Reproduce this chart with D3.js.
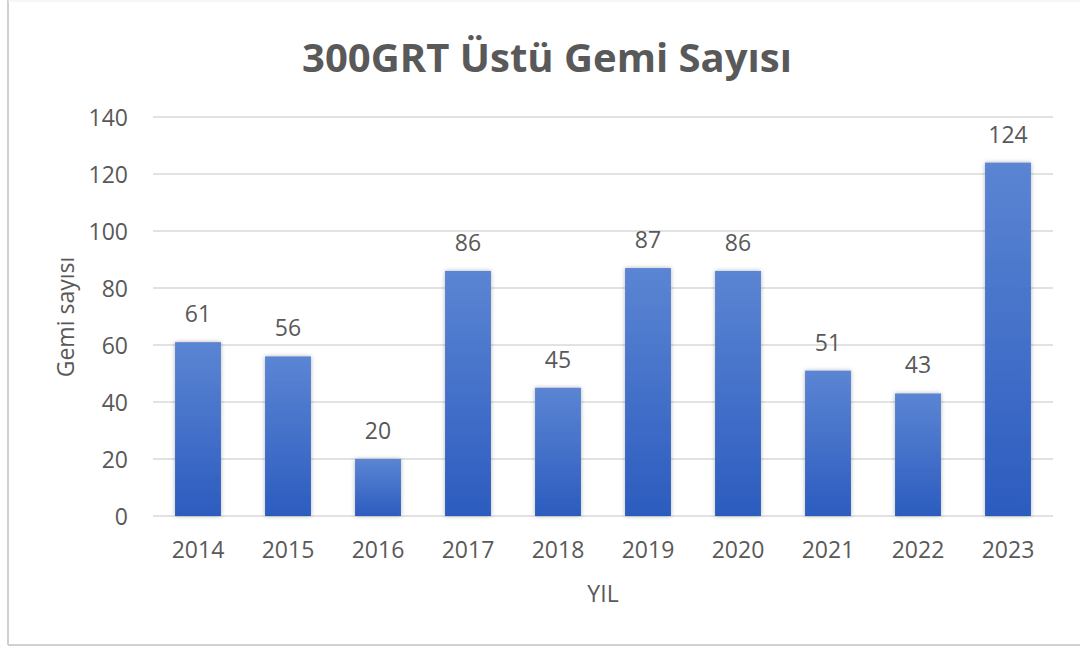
<!DOCTYPE html>
<html>
<head>
<meta charset="utf-8">
<script src="https://cdn.jsdelivr.net/npm/d3@7/dist/d3.min.js"></script>
<style>
  html, body { margin: 0; padding: 0; background: #fff; }
  text { font-family: "Open Sans", "DejaVu Sans", sans-serif; fill: #595959; }
</style>
</head>
<body>
<svg id="chart" width="1080" height="647"></svg>
<script>
// veriler
var years = ["2014", "2015", "2016", "2017", "2018", "2019", "2020", "2021", "2022", "2023"];
var shipCounts = [61, 56, 20, 86, 45, 87, 86, 51, 43, 124];
var yTicks = [0, 20, 40, 60, 80, 100, 120, 140];
var title = "300GRT Üstü Gemi Sayısı";
var xTitle = "YIL";
var yTitle = "Gemi sayısı";

var svg = d3.select("#chart");
const W = 1080, H = 647;
var margin = {left: 153, right: 27, top: 117, bottom: 131};
var plotW = W - margin.left - margin.right;
var plotH = H - margin.top - margin.bottom;

// çerçeve
svg.append("line").attr("x1", 8).attr("x2", 8).attr("y1", 0).attr("y2", 645)
  .attr("stroke", "#d0d0d0").attr("stroke-width", 2);
svg.append("line").attr("x1", 8).attr("x2", W).attr("y1", 645).attr("y2", 645)
  .attr("stroke", "#d0d0d0").attr("stroke-width", 2);
svg.append("line").attr("x1", 8).attr("x2", W).attr("y1", 1).attr("y2", 1)
  .attr("stroke", "#eeeeee").attr("stroke-width", 1);

var defs = svg.append("defs");
var grad = defs.append("linearGradient").attr("id", "barGrad")
  .attr("x1", 0).attr("y1", 0).attr("x2", 0).attr("y2", 1);
grad.append("stop").attr("offset", "0%").attr("stop-color", "#5b85d3");
grad.append("stop").attr("offset", "100%").attr("stop-color", "#2c5cbf");
var shadow = defs.append("filter").attr("id", "barShadow")
  .attr("x", "-30%").attr("y", "-10%").attr("width", "160%").attr("height", "120%");
shadow.append("feDropShadow").attr("dx", 0).attr("dy", 0).attr("stdDeviation", 2)
  .attr("flood-color", "#000").attr("flood-opacity", 0.3);

var g = svg.append("g").attr("transform", "translate(" + margin.left + "," + margin.top + ")");

const x = d3.scaleBand().domain(years).range([0, plotW]).paddingInner(0.49).paddingOuter(0.245);
const y = d3.scaleLinear().domain([0, 140]).range([plotH, 0]);

// grid
g.append("g").attr("class", "grid").selectAll("line").data(yTicks).enter().append("line")
  .attr("x1", 0).attr("x2", plotW)
  .attr("y1", function(d){ return y(d); }).attr("y2", function(d){ return y(d); })
  .attr("stroke", "#d9d9d9").attr("stroke-width", 1.5);

// y ekseni
var yAxis = g.append("g").call(d3.axisLeft(y).tickValues(yTicks).tickSize(0).tickPadding(25));
yAxis.select(".domain").remove();
yAxis.selectAll("text").style("font-size", "23px").attr("fill", "#595959").attr("dy", "0.36em");

// x ekseni
var xAxis = g.append("g").attr("transform", "translate(0," + plotH + ")")
  .call(d3.axisBottom(x).tickSize(0).tickPadding(26));
xAxis.select(".domain").remove();
xAxis.selectAll("text").style("font-size", "23px").attr("fill", "#595959");

// çubuklar
var data = years.map(function(d, i){ return {year: d, value: shipCounts[i]}; });
g.append("g").selectAll("rect").data(data).enter().append("rect")
  .attr("x", function(d){ return x(d.year); })
  .attr("width", x.bandwidth())
  .attr("y", function(d){ return y(d.value); })
  .attr("height", function(d){ return plotH - y(d.value); })
  .attr("fill", "url(#barGrad)")
  .attr("filter", "url(#barShadow)");

// değer etiketleri
g.append("g").selectAll("text").data(data).enter().append("text")
  .attr("x", function(d){ return x(d.year) + x.bandwidth() / 2; })
  .attr("y", function(d){ return y(d.value) - 20; })
  .attr("text-anchor", "middle")
  .style("font-size", "23px")
  .text(function(d){ return d.value; });

// başlık
var t = svg.append("text").attr("x", 547).attr("y", 72).attr("text-anchor", "middle")
  .style("font-size", "48px").style("font-weight", "bold").text(title);
var tw = t.node().getComputedTextLength();
t.style("font-size", (48 * 490 / tw) + "px");

// eksen başlıkları
svg.append("text").attr("x", 603).attr("y", 602).attr("text-anchor", "middle")
  .style("font-size", "23px").text(xTitle);
svg.append("text").attr("transform", "translate(74,317) rotate(-90)").attr("text-anchor", "middle")
  .style("font-size", "23px").text(yTitle);
</script>
</body>
</html>
